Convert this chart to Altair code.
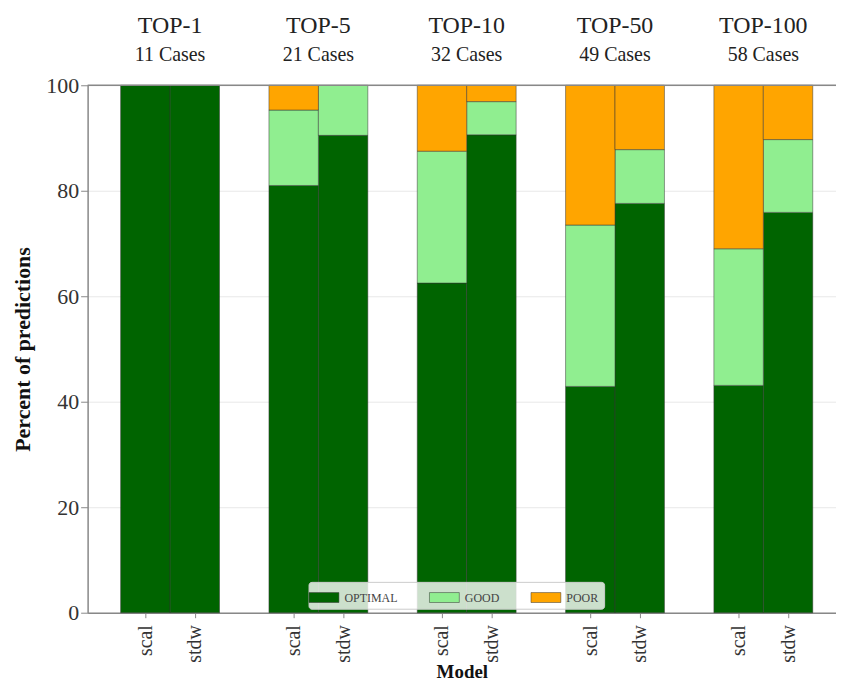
import altair as alt
import pandas as pd

groups = ["TOP-1", "TOP-5", "TOP-10", "TOP-50", "TOP-100"]
cases = [11, 21, 32, 49, 58]
models = ["scal", "stdw"]
categories = ["OPTIMAL", "GOOD", "POOR"]
colors = ["#006400", "#90EE90", "#FFA500"]

scal_optimal = [100.0, 81.0, 62.5, 42.9, 43.1]
scal_good = [0.0, 14.3, 25.0, 30.6, 25.9]
scal_poor = [0.0, 4.7, 12.5, 26.5, 31.0]
stdw_optimal = [100.0, 90.5, 90.6, 77.6, 75.9]
stdw_good = [0.0, 9.5, 6.3, 10.2, 13.8]
stdw_poor = [0.0, 0.0, 3.1, 12.2, 10.3]

series = {
    "scal": [scal_optimal, scal_good, scal_poor],
    "stdw": [stdw_optimal, stdw_good, stdw_poor],
}

rows = []
for g, name in enumerate(groups):
    for m, model in enumerate(models):
        base = 0.0
        for k, cat in enumerate(categories):
            v = series[model][k][g]
            if v > 0:
                rows.append(dict(group=name, model=model, pos=3 * g + m, cat=cat,
                                 order=k, lo=base, hi=base + v))
            base += v
df = pd.DataFrame(rows)

heads = pd.DataFrame({
    "group": groups,
    "cases": [f"{c} Cases" for c in cases],
    "cx": [3 * g + 0.5 for g in range(len(groups))],
})

FONT = "Liberation Serif"
W, H = 752, 530
xscale = alt.Scale(domain=[-1.168, 13.97], nice=False, zero=False)
yscale = alt.Scale(domain=[0, 100], nice=False)

bars = alt.Chart(df).transform_calculate(
    x0="datum.pos - 0.5", x1="datum.pos + 0.5"
).mark_bar(stroke="#333333", strokeWidth=0.7, strokeOpacity=0.7).encode(
    x=alt.X("x0:Q", scale=xscale, title="Model",
            axis=alt.Axis(values=[0, 1, 3, 4, 6, 7, 9, 10, 12, 13],
                          labelExpr="datum.value % 3 == 0 ? 'scal' : 'stdw'",
                          labelAngle=-90, labelAlign="right", labelBaseline="middle",
                          grid=False, labelFont=FONT, labelFontSize=20,
                          labelColor="#333333", tickColor="#888888", tickSize=5,
                          labelPadding=7,
                          domainColor="#888888", domainWidth=1.5,
                          titleFont=FONT, titleFontSize=19, titleFontWeight="bold",
                          titleColor="#111111", titlePadding=0)),
    x2="x1:Q",
    y=alt.Y("lo:Q", scale=yscale, title="Percent of predictions",
            axis=alt.Axis(values=[0, 20, 40, 60, 80, 100], grid=True,
                          gridColor="#e8e8e8", gridWidth=1,
                          labelFont=FONT, labelFontSize=22, labelColor="#333333",
                          tickColor="#888888", tickSize=7, labelPadding=2,
                          domainColor="#888888",
                          domainWidth=1.5, titleFont=FONT, titleFontSize=22,
                          titleFontWeight="bold", titleColor="#111111",
                          titlePadding=11)),
    y2="hi:Q",
    color=alt.Color("cat:N", scale=alt.Scale(domain=categories, range=colors),
                    legend=alt.Legend(orient="none", legendX=222, legendY=499,
                                      direction="horizontal", title=None,
                                      fillColor="rgba(255,255,255,0.8)",
                                      strokeColor="#cccccc", padding=5,
                                      cornerRadius=3,
                                      symbolType="M-1.5,-0.5H1.5V0.5H-1.5Z",
                                      symbolSize=400, symbolStrokeColor="#333333",
                                      symbolStrokeWidth=0.5, labelFont=FONT,
                                      labelFontSize=12, labelColor="#444444",
                                      columnPadding=30, labelOffset=10)),
    order=alt.Order("order:Q"),
)

top_line = alt.Chart(pd.DataFrame({"y": [100]})).mark_rule(
    color="#888888", strokeWidth=1.5
).encode(y=alt.Y("y:Q", scale=yscale), x=alt.value(0), x2=alt.value(W))

head1 = alt.Chart(heads).mark_text(font=FONT, fontSize=24, color="#222222",
                                   baseline="middle").encode(
    x=alt.X("cx:Q", scale=xscale), y=alt.value(-60), text="group:N")
head2 = alt.Chart(heads).mark_text(font=FONT, fontSize=20, color="#222222",
                                   baseline="middle").encode(
    x=alt.X("cx:Q", scale=xscale), y=alt.value(-30), text="cases:N")

chart = alt.layer(bars, top_line, head1, head2).properties(
    width=W, height=H,
    autosize=alt.AutoSizeParams(type="none"),
    padding={"left": 80, "top": 76, "right": 0, "bottom": 71},
).configure_view(stroke=None)

chart.save("out.html", embed_options={"renderer": "svg", "actions": False})
